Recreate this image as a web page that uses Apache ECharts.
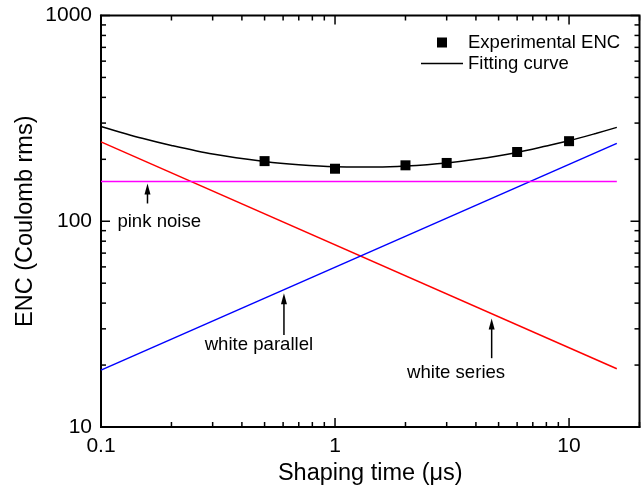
<!DOCTYPE html>
<html><head><meta charset="utf-8">
<script src="https://cdn.jsdelivr.net/npm/echarts@6/dist/echarts.min.js"></script>
<style>html,body{margin:0;padding:0;background:#fff}#c{width:642px;height:492px}</style>
</head><body><div id="c"></div>
<script>
// ---- data ----
const shapingTimes = [0.5, 1, 2, 3, 6, 10];
const encValues = [196, 180, 187, 192, 217, 245];

const fitTimes = [0.1, 0.15, 0.2, 0.3, 0.5, 0.7, 1, 1.5, 2, 3, 4, 6, 8, 10, 13, 16];
const fitValues = [289, 253, 233.5, 212, 195, 188, 184, 183.5, 185.5, 192, 200, 216, 232, 246, 267, 286];

const pinkTimes = [0.1, 16];
const pinkValues = [156, 156];
const whiteSeriesTimes = [0.1, 16];
const whiteSeriesValues = [243, 19.2];
const whiteParallelTimes = [0.1, 16];
const whiteParallelValues = [18.9, 239];

const xMajorTicks = [0.1, 1, 10];
const xTickLabels = ['0.1', '1', '10'];
const xMinorTicks = [0.2, 0.3, 0.4, 0.5, 0.6, 0.7, 0.8, 0.9, 2, 3, 4, 5, 6, 7, 8, 9, 20];
const yMajorTicks = [10, 100, 1000];
const yTickLabels = ['10', '100', '1000'];
const yMinorTicks = [20, 30, 40, 50, 60, 70, 80, 90, 200, 300, 400, 500, 600, 700, 800, 900];

const annotationNames = ['pink noise', 'white parallel', 'white series'];
const annotationTimes = [0.1774, 0.473, 3.29];
const annotationValues = [99, 25.0, 18.4];
const arrowTimes = [0.158, 0.605, 4.67];
const arrowTailValues = [122, 28.0, 21.6];
const arrowTipValues = [152.4, 44.7, 33.7];

// ---- build ----
const FONT = '"Liberation Sans", Arial, sans-serif';
const X_MIN = 0.1, X_MAX = 20, Y_MIN = 10, Y_MAX = 1000;
const zip = (a, b) => a.map((v, i) => [v, b[i]]);
const labelFor = (ticks, labels) => (v) => {
  const i = ticks.findIndex(t => Math.abs(Math.log10(t) - Math.log10(v)) < 1e-6);
  return i >= 0 ? labels[i] : '';
};

function tickSeries(values, dim, len) {
  return {
    type: 'custom', silent: true, clip: false, z: 10,
    data: values.map(v => dim === 'x' ? [v, Y_MIN] : [X_MIN, v]),
    renderItem: function (params, api) {
      const v = api.value(dim === 'x' ? 0 : 1);
      const st = { stroke: '#000', lineWidth: 1.5 };
      if (dim === 'x') {
        const b = api.coord([v, Y_MIN]), t = api.coord([v, Y_MAX]);
        return { type: 'group', children: [
          { type: 'line', shape: { x1: b[0], y1: b[1], x2: b[0], y2: b[1] - len }, style: st },
          { type: 'line', shape: { x1: t[0], y1: t[1], x2: t[0], y2: t[1] + len }, style: st }
        ] };
      } else {
        const l = api.coord([X_MIN, v]), r = api.coord([X_MAX, v]);
        return { type: 'group', children: [
          { type: 'line', shape: { x1: l[0], y1: l[1], x2: l[0] + len, y2: l[1] }, style: st },
          { type: 'line', shape: { x1: r[0], y1: r[1], x2: r[0] - len, y2: r[1] }, style: st }
        ] };
      }
    }
  };
}

const option = {
  animation: false,
  backgroundColor: '#fff',
  grid: { left: 101, right: 2.5, top: 15.5, bottom: 65, containLabel: false, outerBoundsMode: 'none',
    show: true, borderColor: '#000', borderWidth: 2, backgroundColor: 'transparent' },
  legend: {
    orient: 'vertical', left: 421, top: 33, padding: 0, itemWidth: 42, itemHeight: 10, itemGap: 2,
    data: [
      { name: 'Experimental ENC', icon: 'path://M0,0H10V10H0Z' },
      { name: 'Fitting curve', icon: 'path://M0,0H42V1.4H0Z' }
    ],
    textStyle: { color: '#000', fontSize: 18.5, fontFamily: FONT },
    selectedMode: false
  },
  xAxis: {
    type: 'log', logBase: 10, min: X_MIN, max: X_MAX,
    axisLine: { show: true, lineStyle: { color: '#000', width: 2 } },
    axisTick: { show: false }, minorTick: { show: false }, splitLine: { show: false },
    axisLabel: { margin: 9, formatter: labelFor(xMajorTicks, xTickLabels),
      color: '#000', fontSize: 21, fontFamily: FONT },
    name: 'Shaping time (μs)', nameLocation: 'middle', nameGap: 35, nameMoveOverlap: false,
    nameTextStyle: { color: '#000', fontSize: 23.5, fontFamily: FONT }
  },
  yAxis: {
    type: 'log', logBase: 10, min: Y_MIN, max: Y_MAX,
    axisLine: { show: true, lineStyle: { color: '#000', width: 2 } },
    axisTick: { show: false }, minorTick: { show: false }, splitLine: { show: false },
    axisLabel: { margin: 9, formatter: labelFor(yMajorTicks, yTickLabels),
      color: '#000', fontSize: 21, fontFamily: FONT },
    name: 'ENC (Coulomb rms)', nameLocation: 'middle', nameGap: 63, nameMoveOverlap: false,
    nameTextStyle: { color: '#000', fontSize: 23.5, fontFamily: FONT }
  },
  series: [
    { name: 'white series', type: 'line', data: zip(whiteSeriesTimes, whiteSeriesValues),
      showSymbol: false, symbol: 'none', lineStyle: { color: '#ff0000', width: 1.5 }, z: 2 },
    { name: 'white parallel', type: 'line', data: zip(whiteParallelTimes, whiteParallelValues),
      showSymbol: false, symbol: 'none', lineStyle: { color: '#0000ff', width: 1.5 }, z: 2 },
    { name: 'pink noise', type: 'line', data: zip(pinkTimes, pinkValues),
      showSymbol: false, symbol: 'none', lineStyle: { color: '#ff00ff', width: 1.5 }, z: 2 },
    { name: 'Fitting curve', type: 'line', data: zip(fitTimes, fitValues), smooth: 0.3,
      showSymbol: false, symbol: 'none', lineStyle: { color: '#000', width: 1.5 }, itemStyle: { color: '#000' }, z: 3 },
    { name: 'Experimental ENC', type: 'scatter', data: zip(shapingTimes, encValues),
      symbol: 'rect', symbolSize: 10, itemStyle: { color: '#000', opacity: 1 }, z: 4 },
    { name: 'annotations', type: 'scatter', symbolSize: 0, silent: true, z: 5,
      itemStyle: { opacity: 1, color: '#000' },
      data: annotationNames.map((n, i) => ({ name: n, value: [annotationTimes[i], annotationValues[i]] })),
      label: { show: true, position: 'inside', formatter: '{b}', color: '#000', opacity: 1, fontSize: 18.6, fontFamily: FONT }
    },
    { name: 'arrows', type: 'custom', silent: true, z: 5,
      data: arrowTimes.map((t, i) => [t, arrowTailValues[i], arrowTipValues[i]]),
      encode: { x: 0, y: [1, 2] },
      renderItem: function (params, api) {
        const tail = api.coord([api.value(0), api.value(1)]);
        const tip = api.coord([api.value(0), api.value(2)]);
        const headH = 11, headW = 3;
        return { type: 'group', children: [
          { type: 'line', shape: { x1: tail[0], y1: tail[1], x2: tip[0], y2: tip[1] + headH - 1 },
            style: { stroke: '#000', lineWidth: 1.5 } },
          { type: 'polygon', shape: { points: [[tip[0], tip[1]], [tip[0] + headW, tip[1] + headH], [tip[0] - headW, tip[1] + headH]] },
            style: { fill: '#000' } }
        ] };
      }
    },
    tickSeries(xMajorTicks, 'x', 9),
    tickSeries(xMinorTicks, 'x', 5),
    tickSeries(yMajorTicks, 'y', 9),
    tickSeries(yMinorTicks, 'y', 5)
  ]
};
const chart = echarts.init(document.getElementById('c'), null, { renderer: 'canvas' });
chart.setOption(option);
</script>
</body></html>
